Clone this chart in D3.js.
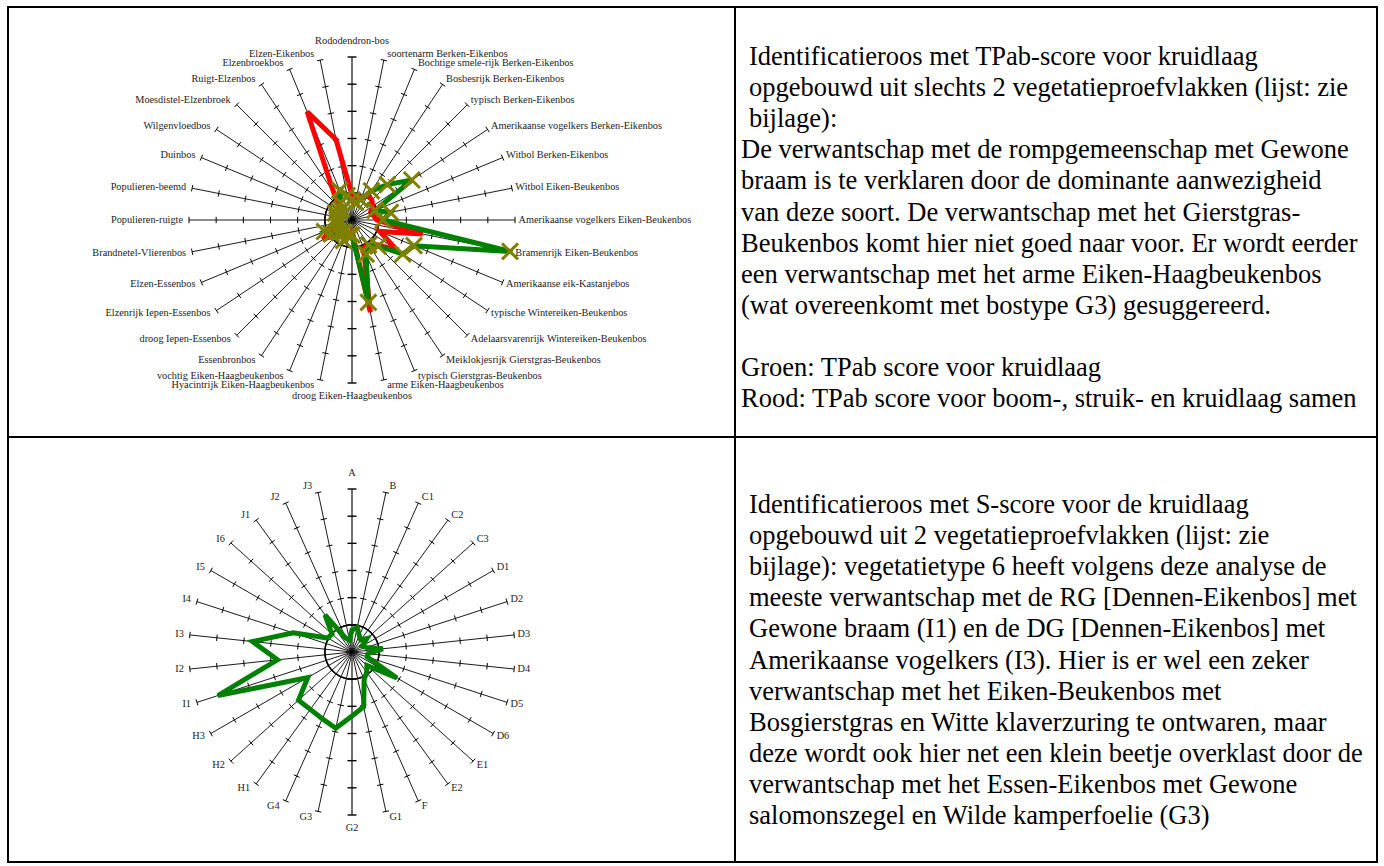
<!DOCTYPE html>
<html>
<head>
<meta charset="utf-8">
<script src="https://cdn.jsdelivr.net/npm/d3@7"></script>
<style>
  body { margin: 0; background: #fff; }
  svg { display: block; font-family: "Liberation Serif", "Times New Roman", serif; }
</style>
</head>
<body>
<svg id="page" width="1384" height="866"></svg>
<script>
// Forest vegetation types (identification rose, TPab score)
const vegTypes = [
  "Rododendron-bos", "soortenarm Berken-Eikenbos", "Bochtige smele-rijk Berken-Eikenbos",
  "Bosbesrijk Berken-Eikenbos", "typisch Berken-Eikenbos", "Amerikaanse vogelkers Berken-Eikenbos",
  "Witbol Berken-Eikenbos", "Witbol Eiken-Beukenbos", "Amerikaanse vogelkers Eiken-Beukenbos",
  "Bramenrijk Eiken-Beukenbos", "Amerikaanse eik-Kastanjebos", "typische Wintereiken-Beukenbos",
  "Adelaarsvarenrijk Wintereiken-Beukenbos", "Meiklokjesrijk Gierstgras-Beukenbos",
  "typisch Gierstgras-Beukenbos", "arme Eiken-Haagbeukenbos", "droog Eiken-Haagbeukenbos",
  "Hyacintrijk Eiken-Haagbeukenbos", "vochtig Eiken-Haagbeukenbos", "Essenbronbos",
  "droog Iepen-Essenbos", "Elzenrijk Iepen-Essenbos", "Elzen-Essenbos", "Brandnetel-Vlierenbos",
  "Populieren-ruigte", "Populieren-beemd", "Duinbos", "Wilgenvloedbos", "Moesdistel-Elzenbroek",
  "Ruigt-Elzenbos", "Elzenbroekbos", "Elzen-Eikenbos"
];

// TPab score, herb layer only (green)
const tpabHerb = [
  -0.26, -0.34, -0.19, 0.29, 0.84, 1.65, -0.08, 0.44, 0.14, 4.93, 1.47, 1.25,
  0.36, 0.10, 0.36, 2.09, -0.45, -0.45, -0.19, -0.45, -0.34, -0.08, 0.10, -0.45,
  -0.45, -0.45, -0.34, -0.45, -0.45, -0.26, 0.18, -0.08
];

// TPab score, tree + shrub + herb layer together (red)
const tpabAll = [
  -0.08, -0.26, -0.08, 0.10, 0.03, -0.08, -0.26, -0.19, -0.08, 1.65, 0.10, 0.99,
  0.29, 0.10, 0.10, 2.46, -0.56, -0.45, -0.45, -0.45, -0.26, 0.29, -0.26, -0.45,
  -0.45, -0.45, -0.45, -0.45, -0.45, 0.21, 3.31, 2.02
];

// Vegetation groups (identification rose, S score)
const groupCodes = [
  "A", "B", "C1", "C2", "C3", "D1", "D2", "D3", "D4", "D5", "D6", "E1", "E2", "F",
  "G1", "G2", "G3", "G4", "H1", "H2", "H3", "I1", "I2", "I3", "I4", "I5", "I6",
  "J1", "J2", "J3"
];

// S score, herb layer
const sScoreHerb = [
  -0.19, -0.08, -0.34, -0.45, -0.26, -0.56, -0.45, 0.14, -0.41, -0.41, 0.91, -0.26,
  -0.08, 0.10, 1.06, 1.36, 1.87, 1.69, 1.61, 1.65, 0.88, 4.19, 1.76, 2.68, 1.28,
  0.03, -0.01, 0.69, -0.45, -0.56
];

// Radial scale: value range and tick values along every spoke
const radialDomain = [-1, 5];
const radialTicks = [0, 1, 2, 3, 4, 5];

const topText = [
  { t: "Identificatieroos met TPab-score voor kruidlaag", indent: 1 },
  { t: "opgebouwd uit slechts 2 vegetatieproefvlakken (lijst: zie", indent: 1 },
  { t: "bijlage):", indent: 1 },
  { t: "De verwantschap met de rompgemeenschap met Gewone", indent: 0 },
  { t: "braam is te verklaren door de dominante aanwezigheid", indent: 0 },
  { t: "van deze soort.  De verwantschap met het Gierstgras-", indent: 0 },
  { t: "Beukenbos komt hier niet goed naar voor. Er wordt eerder", indent: 0 },
  { t: "een verwantschap met het arme Eiken-Haagbeukenbos", indent: 0 },
  { t: "(wat overeenkomt met bostype G3) gesuggereerd.", indent: 0 },
  { t: "", indent: 0 },
  { t: "Groen: TPab score voor kruidlaag", indent: 0 },
  { t: "Rood: TPab score voor boom-, struik- en kruidlaag samen", indent: 0 }
];

const bottomText = [
  "Identificatieroos met S-score voor de kruidlaag",
  "opgebouwd uit 2 vegetatieproefvlakken (lijst: zie",
  "bijlage): vegetatietype 6 heeft volgens deze analyse de",
  "meeste verwantschap met de RG [Dennen-Eikenbos] met",
  "Gewone braam (I1) en de DG [Dennen-Eikenbos] met",
  "Amerikaanse vogelkers (I3).  Hier is er wel een zeker",
  "verwantschap met het Eiken-Beukenbos met",
  "Bosgierstgras en Witte klaverzuring te ontwaren, maar",
  "deze wordt ook hier net een klein beetje overklast door de",
  "verwantschap met het Essen-Eikenbos met Gewone",
  "salomonszegel en Wilde kamperfoelie (G3)"
];

const svg = d3.select("#page");
const R = 163;
const rScale = d3.scaleLinear().domain(radialDomain).range([0, R]);

function drawRadar(cx, cy, categories, series) {
  const n = categories.length;
  const g = svg.append("g").attr("transform", `translate(${cx},${cy})`);
  const ang = i => 2 * Math.PI * i / n;
  const pt = (i, r) => [r * Math.sin(ang(i)), -r * Math.cos(ang(i))];

  // spokes with tick marks
  categories.forEach((c, i) => {
    const vertical = Math.abs(Math.sin(ang(i))) < 1e-6;
    const [ex, ey] = pt(i, R);
    g.append("line")
      .attr("x1", 0).attr("y1", 0).attr("x2", ex).attr("y2", ey)
      .attr("stroke", vertical ? "#333" : "#000")
      .attr("stroke-width", vertical ? 1.4 : 0.9);
    const half = vertical ? 4.5 : 3.2;
    const px = Math.cos(ang(i)), py = Math.sin(ang(i));
    radialTicks.forEach(v => {
      const [tx, ty] = pt(i, rScale(v));
      g.append("line")
        .attr("x1", tx - px * half).attr("y1", ty - py * half)
        .attr("x2", tx + px * half).attr("y2", ty + py * half)
        .attr("stroke", "#000").attr("stroke-width", vertical ? 1.4 : 1);
    });
  });

  // zero reference ring
  const ring = d3.lineRadial()
    .angle((d, i) => ang(i))
    .radius(d => rScale(d))
    .curve(d3.curveLinearClosed);
  g.append("path")
    .attr("d", ring(categories.map(() => 0)))
    .attr("fill", "none").attr("stroke", "#000").attr("stroke-width", 1.5);

  // category labels
  categories.forEach((c, i) => {
    const s = Math.sin(ang(i)), co = Math.cos(ang(i));
    const [ex, ey] = pt(i, R);
    const t = g.append("text").text(c)
      .attr("font-size", 10.3).attr("fill", "#222");
    if (Math.abs(s) < 1e-6) {
      t.attr("text-anchor", "middle").attr("x", ex)
        .attr("y", co > 0 ? ey - 16.5 : ey + 12.5).attr("dy", "0.35em");
    } else {
      t.attr("text-anchor", s > 0 ? "start" : "end")
        .attr("x", s > 0 ? ex + 3.5 : ex - 6)
        .attr("y", ey - 6 * co - 1).attr("dy", "0.35em");
    }
  });

  // data series
  series.forEach(sr => {
    g.append("path")
      .attr("d", ring(sr.values))
      .attr("fill", "none").attr("stroke", sr.color)
      .attr("stroke-width", 5).attr("stroke-linejoin", "miter");
    if (sr.marker) {
      sr.values.forEach((v, i) => {
        const [x, y] = pt(i, rScale(v));
        g.append("path")
          .attr("d", "M-8,-8L8,8M-8,8L8,-8")
          .attr("transform", `translate(${x},${y})`)
          .attr("stroke", sr.marker).attr("stroke-width", 3).attr("fill", "none");
      });
    }
  });
}

drawRadar(352, 220, vegTypes, [
  { values: tpabAll, color: "#ff0000" },
  { values: tpabHerb, color: "#008000", marker: "#808000" }
]);

drawRadar(352, 652, groupCodes, [
  { values: sScoreHerb, color: "#008000" }
]);

// explanatory text
const fs = 26.5, lh = 31.1;
topText.forEach((l, k) => {
  svg.append("text").text(l.t)
    .attr("x", l.indent ? 749 : 741).attr("y", 56 + k * lh + 9)
    .attr("font-size", fs).attr("fill", "#000");
});
bottomText.forEach((l, k) => {
  svg.append("text").text(l)
    .attr("x", 749).attr("y", 504 + k * lh + 9)
    .attr("font-size", fs).attr("fill", "#000");
});

// table grid
const grid = svg.append("g").attr("stroke", "#000").attr("stroke-width", 2).attr("fill", "none");
grid.append("rect").attr("x", 8).attr("y", 7).attr("width", 1369).attr("height", 855);
grid.append("line").attr("x1", 735).attr("y1", 7).attr("x2", 735).attr("y2", 862);
grid.append("line").attr("x1", 8).attr("y1", 437).attr("x2", 1377).attr("y2", 437);
</script>
</body>
</html>
